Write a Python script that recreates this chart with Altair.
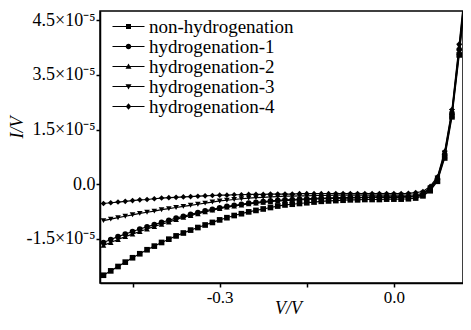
import altair as alt
import pandas as pd

# ---------------- data (current in units of 1e-5 A) ----------------
V = [-0.5, -0.4875, -0.475, -0.4625, -0.45, -0.4375, -0.425, -0.4125, -0.4, -0.3875,
     -0.375, -0.3625, -0.35, -0.3375, -0.325, -0.3125, -0.3, -0.2875, -0.275, -0.2625,
     -0.25, -0.2375, -0.225, -0.2125, -0.2, -0.1875, -0.175, -0.1625, -0.15, -0.1375,
     -0.125, -0.1125, -0.1, -0.0875, -0.075, -0.0625, -0.05, -0.0375, -0.025, -0.0125,
     0.0, 0.0125, 0.025, 0.0375, 0.05, 0.0625, 0.075, 0.0875, 0.1, 0.1125,
     0.125]

SERIES = ["non-hydrogenation", "hydrogenation-1", "hydrogenation-2",
          "hydrogenation-3", "hydrogenation-4"]

I_NON = [-2.50, -2.38, -2.26, -2.14, -2.02, -1.91, -1.80, -1.70, -1.60, -1.51,
         -1.42, -1.34, -1.26, -1.19, -1.12, -1.05, -0.98, -0.92, -0.86, -0.81,
         -0.76, -0.72, -0.68, -0.64, -0.60, -0.57, -0.55, -0.53, -0.51, -0.49,
         -0.47, -0.46, -0.45, -0.44, -0.43, -0.43, -0.42, -0.42, -0.42, -0.41,
         -0.41, -0.41, -0.40, -0.38, -0.32, -0.18, 0.08, 0.72, 1.85, 3.55,
         5.40]
I_H1 = [-1.60, -1.52, -1.44, -1.37, -1.30, -1.23, -1.17, -1.11, -1.05, -0.99,
        -0.93, -0.88, -0.83, -0.78, -0.73, -0.69, -0.65, -0.61, -0.58, -0.55,
        -0.52, -0.50, -0.48, -0.46, -0.44, -0.43, -0.42, -0.41, -0.40, -0.39,
        -0.38, -0.38, -0.37, -0.37, -0.36, -0.36, -0.36, -0.35, -0.35, -0.35,
        -0.35, -0.34, -0.34, -0.32, -0.27, -0.12, 0.14, 0.82, 1.95, 3.70,
        5.60]
I_H2 = [-1.68, -1.60, -1.52, -1.44, -1.37, -1.30, -1.23, -1.16, -1.10, -1.04,
        -0.97, -0.91, -0.86, -0.81, -0.76, -0.71, -0.67, -0.63, -0.60, -0.57,
        -0.54, -0.52, -0.50, -0.48, -0.46, -0.45, -0.44, -0.43, -0.42, -0.41,
        -0.40, -0.39, -0.39, -0.38, -0.38, -0.37, -0.37, -0.37, -0.36, -0.36,
        -0.36, -0.36, -0.35, -0.34, -0.29, -0.15, 0.11, 0.78, 1.90, 3.62,
        5.50]
I_H3 = [-1.00, -0.96, -0.92, -0.88, -0.84, -0.80, -0.77, -0.74, -0.70, -0.67,
        -0.64, -0.61, -0.58, -0.55, -0.52, -0.49, -0.46, -0.44, -0.42, -0.40,
        -0.38, -0.37, -0.36, -0.35, -0.34, -0.33, -0.33, -0.32, -0.32, -0.31,
        -0.31, -0.31, -0.30, -0.30, -0.30, -0.30, -0.30, -0.30, -0.30, -0.30,
        -0.30, -0.30, -0.30, -0.29, -0.25, -0.10, 0.17, 0.86, 2.00, 3.78,
        5.70]
I_H4 = [-0.53, -0.51, -0.49, -0.47, -0.45, -0.43, -0.42, -0.40, -0.38, -0.37,
        -0.36, -0.35, -0.34, -0.33, -0.32, -0.31, -0.30, -0.30, -0.29, -0.29,
        -0.28, -0.28, -0.28, -0.27, -0.27, -0.27, -0.27, -0.26, -0.26, -0.26,
        -0.26, -0.26, -0.26, -0.26, -0.26, -0.26, -0.26, -0.26, -0.26, -0.26,
        -0.26, -0.26, -0.25, -0.23, -0.20, -0.06, 0.20, 0.90, 2.05, 3.85,
        5.80]

X_TICKS = [-0.45, -0.3, -0.15, 0.0]
X_TICK_LABELS = ["", "-0.3", "", "0.0"]
Y_TICKS = [-1.5, 0.0, 1.5, 3.0, 4.5]
Y_TICK_LABELS = ["-1.5×10⁻⁵", "0.0", "1.5×10⁻⁵", "3.5×10⁻⁵", "4.5×10⁻⁵"]

SHAPES = ["square", "circle", "triangle-up", "triangle-down", "diamond"]
# legend glyphs: a thin bar (the line) with the marker on it, all wound clockwise
MARKER_PATHS = [
    "M-0.5,-0.5H0.5V0.5H-0.5Z",
    "M0.55,0A0.55,0.55 0 1,1 -0.55,0A0.55,0.55 0 1,1 0.55,0Z",
    "M0,-0.6L0.6,0.45L-0.6,0.45Z",
    "M0,0.6L-0.6,-0.45L0.6,-0.45Z",
    "M0,-0.65L0.55,0L0,0.65L-0.55,0Z",
]
LEGEND_PATHS = ["M-3.2,-0.1H3.2V0.1H-3.2Z" + p for p in MARKER_PATHS]

# ---------------- table ----------------
cols = [I_NON, I_H1, I_H2, I_H3, I_H4]
rows = []
for name, vals in zip(SERIES, cols):
    for v, i in zip(V, vals):
        rows.append({"V": v, "I": i, "series": name})
df = pd.DataFrame(rows)


def label_expr(values, labels):
    expr = "''"
    for v, lab in reversed(list(zip(values, labels))):
        expr = f"abs(datum.value - ({v})) < 1e-6 ? '{lab}' : ({expr})"
    return expr


FONT = "Liberation Serif"

xs = alt.Scale(domain=[-0.506, 0.119], nice=False, zero=False)
ys = alt.Scale(domain=[-2.713, 4.756], nice=False, zero=False)

x_axis = alt.Axis(values=X_TICKS, labelExpr=label_expr(X_TICKS, X_TICK_LABELS),
                  title="V/V", grid=False, tickSize=4, tickWidth=1.5, domainWidth=1.5,
                  domainColor="black", tickColor="black", labelColor="black",
                  labelFont=FONT, labelFontSize=17, labelPadding=2,
                  titleFont=FONT, titleFontSize=18, titleFontStyle="italic",
                  titleFontWeight="normal", titleColor="black",
                  titleX=188, titleY=30, titleBaseline="alphabetic", titleAlign="center")
y_axis = alt.Axis(values=Y_TICKS, labelExpr=label_expr(Y_TICKS, Y_TICK_LABELS),
                  title="I/V", grid=False, tickSize=4, tickWidth=1.5, domainWidth=1.5,
                  domainColor="black", tickColor="black", labelColor="black",
                  labelFont=FONT, labelFontSize=18, labelPadding=1,
                  titleFont=FONT, titleFontSize=18, titleFontStyle="italic",
                  titleFontWeight="normal", titleColor="black", titleAngle=270,
                  titleX=-83, titleY=116, titleAlign="center", titleBaseline="middle")

X = alt.X("V:Q", scale=xs, axis=x_axis)
Y = alt.Y("I:Q", scale=ys, axis=y_axis)

lines = alt.Chart(df).mark_line(color="black", strokeWidth=1.2, clip=True).encode(
    x=X, y=Y, detail="series:N", order="V:Q")

points = alt.Chart(df).mark_point(filled=True, color="black", size=32, opacity=1,
                                  clip=True).encode(
    x=X, y=Y,
    shape=alt.Shape("series:N", scale=alt.Scale(domain=SERIES, range=SHAPES), legend=None))

legend_layer = alt.Chart(df).mark_point(filled=True, color="black", opacity=0,
                                        clip=True).encode(
    x=X, y=Y,
    shape=alt.Shape("series:N", scale=alt.Scale(domain=SERIES, range=LEGEND_PATHS),
                    legend=alt.Legend(title=None, orient="none", legendX=19, legendY=6,
                                      symbolSize=100, symbolFillColor="black",
                                      symbolOpacity=1, labelFont=FONT, labelFontSize=19,
                                      labelColor="black", labelOffset=11, rowPadding=0,
                                      padding=0)))

chart = alt.layer(lines, points, legend_layer).resolve_scale(
    shape="independent"
).properties(
    width=363, height=272,
    autosize=alt.AutoSizeParams(type="none"),
    padding={"left": 92, "top": 3, "right": 0, "bottom": 38},
    background="white",
).configure_view(stroke="black", strokeWidth=1.5)

chart.save("out.html", embed_options={"renderer": "svg", "actions": False})
